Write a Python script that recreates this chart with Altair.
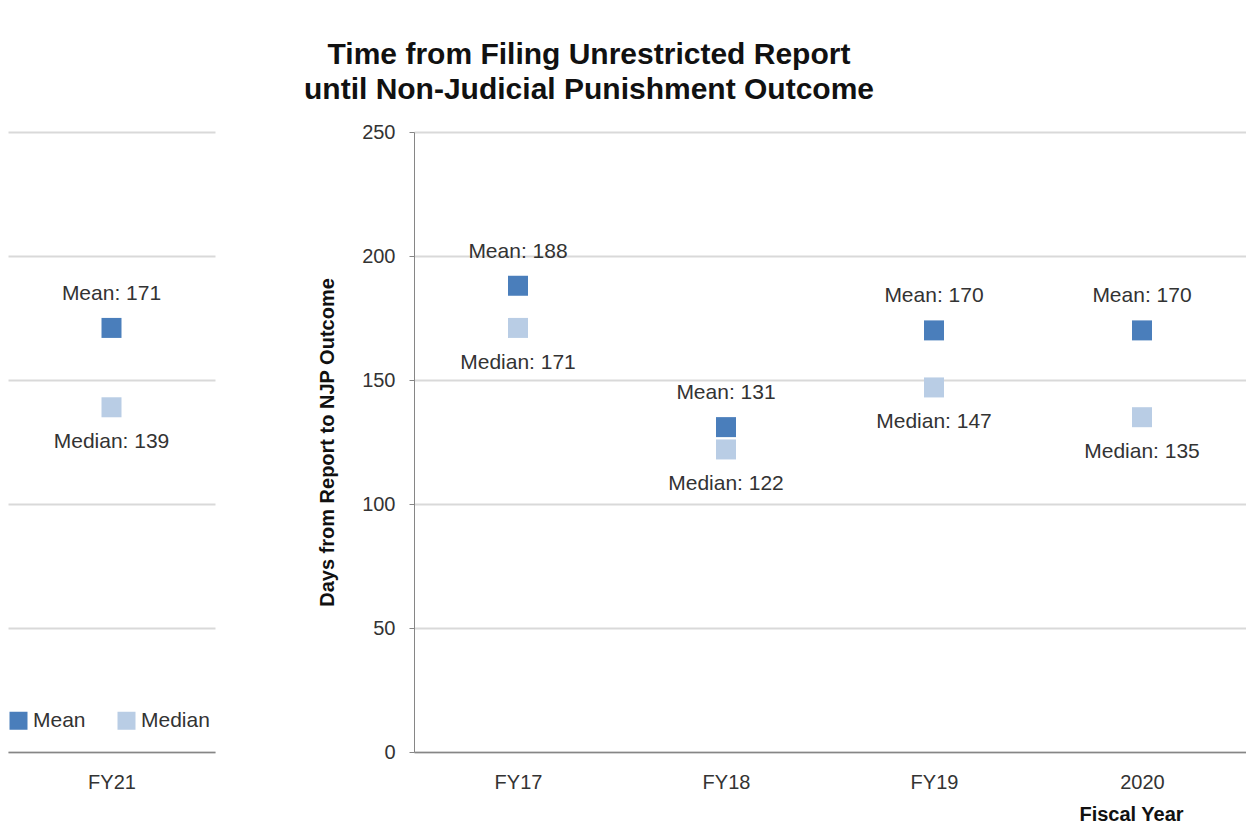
import altair as alt
import pandas as pd

# ---- data ----
years_main = ["FY17", "FY18", "FY19", "2020"]
mean_main = [188, 131, 170, 170]
median_main = [171, 122, 147, 135]

years_left = ["FY21"]
mean_left = [171]
median_left = [139]

series = ["Mean", "Median"]
colors = ["#4a7ebb", "#b9cde5"]


def long_table(years, means, medians):
    rows = []
    for y, m, md in zip(years, means, medians):
        rows.append({"year": y, "series": "Mean", "days": m, "label": f"Mean: {m}"})
        rows.append({"year": y, "series": "Median", "days": md, "label": f"Median: {md}"})
    return pd.DataFrame(rows)


df_main = long_table(years_main, mean_main, median_main)
df_left = long_table(years_left, mean_left, median_left)

FONT = "Liberation Sans"
color_scale = alt.Scale(domain=series, range=colors)
y_scale = alt.Scale(domain=[0, 250])


def panel(df, years, width, main):
    if main:
        y_axis = alt.Axis(
            values=[0, 50, 100, 150, 200, 250], title="Days from Report to NJP Outcome",
            titleFontSize=20, titleFontWeight="bold", titleColor="#111",
            titlePadding=24, labelFontSize=20, labelColor="#333", labelPadding=14,
            tickSize=5, tickColor="#868686", domainColor="#868686",
            gridColor="#d9d9d9", gridWidth=2,
        )
        x_axis = alt.Axis(
            title="Fiscal Year", titleFontSize=20, titleFontWeight="bold",
            titleColor="#111", titleX=717, titleY=52, labelAngle=0,
            labelFontSize=20, labelColor="#333", labelPadding=20, ticks=False,
            domainColor="#868686", domainWidth=1.5,
        )
    else:
        y_axis = alt.Axis(
            values=[0, 50, 100, 150, 200, 250], title=None, labels=False,
            ticks=False, domain=False, gridColor="#d9d9d9", gridWidth=2,
        )
        x_axis = alt.Axis(
            title=None, labelAngle=0, labelFontSize=20, labelColor="#333",
            labelPadding=20, ticks=False, domainColor="#868686", domainWidth=1.5,
        )

    base = alt.Chart(df).encode(
        x=alt.X("year:N", sort=years, axis=x_axis, scale=alt.Scale(paddingInner=0, paddingOuter=0)),
        y=alt.Y("days:Q", scale=y_scale, axis=y_axis),
    )
    pts = base.mark_square(size=400, opacity=1).encode(
        color=alt.Color(
            "series:N", scale=color_scale,
            legend=alt.Legend(
                title=None, orient="none", direction="horizontal",
                legendX=0, legendY=578, symbolType="square", symbolSize=324,
                labelFontSize=21, labelColor="#333", columnPadding=30,
                labelFont=FONT,
            ),
        )
    )
    mean_lbl = base.transform_filter(alt.datum.series == "Mean").mark_text(
        dy=-34, fontSize=21, color="#333", font=FONT
    ).encode(text="label:N")
    med_lbl = base.transform_filter(alt.datum.series == "Median").mark_text(
        dy=35, fontSize=21, color="#333", font=FONT
    ).encode(text="label:N")
    return alt.layer(pts, mean_lbl, med_lbl).properties(width=width, height=620)


left = panel(df_left, years_left, 207, False)
main = panel(df_main, years_main, 832, True)

chart = (
    alt.hconcat(left, main, spacing=102)
    .properties(
        title=alt.TitleParams(
            ["Time from Filing Unrestricted Report", "until Non-Judicial Punishment Outcome"],
            fontSize=30, fontWeight="bold", font=FONT, color="#111",
            anchor="middle", dx=-38, offset=17, lineHeight=35,
        ),
        padding={"left": 0, "top": 32, "right": 0, "bottom": 0},
    )
    .resolve_scale(color="shared")
    .configure(font=FONT)
    .configure_view(stroke=None)
)

chart.save("out.html", embed_options={"renderer": "svg", "actions": False})
